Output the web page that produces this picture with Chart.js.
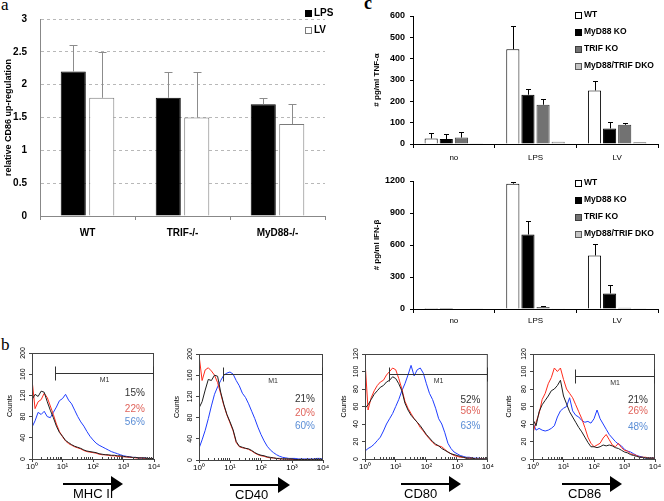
<!DOCTYPE html>
<html>
<head>
<meta charset="utf-8">
<script src="https://cdn.jsdelivr.net/npm/chart.js@4.4.0/dist/chart.umd.min.js"></script>
<style>
  body { margin: 0; background: #fff; width: 664px; height: 501px; position: relative; overflow: hidden; }
  canvas { position: absolute; }
  .letter { position: absolute; font-family: 'Liberation Serif', serif; line-height: 18px; color: #000; }
</style>
</head>
<body>
<div class="letter" style="left:1px; top:-4px; font-size:17px;">a</div>
<div class="letter" style="left:364px; top:-6px; font-size:18px; font-weight:bold;">c</div>
<div class="letter" style="left:1px; top:336px; font-size:17px;">b</div>

<canvas id="chartA" style="left:0; top:0;" width="335" height="250"></canvas>
<canvas id="chartTnf" style="left:335px; top:0;" width="329" height="165"></canvas>
<canvas id="chartIfn" style="left:335px; top:165px;" width="329" height="170"></canvas>
<canvas id="histMhc" style="left:0; top:330px;" width="164" height="171"></canvas>
<canvas id="histCd40" style="left:164px; top:330px;" width="166" height="171"></canvas>
<canvas id="histCd80" style="left:330px; top:330px;" width="164" height="171"></canvas>
<canvas id="histCd86" style="left:494px; top:330px;" width="170" height="171"></canvas>

<script>
// ---- panel a : relative CD86 up-regulation
const cd86Groups = ['WT', 'TRIF-/-', 'MyD88-/-'];
const cd86Lps = [2.2, 1.8, 1.7];
const cd86LpsErr = [0.4, 0.4, 0.1];
const cd86Lv = [1.8, 1.5, 1.4];
const cd86LvErr = [0.7, 0.7, 0.3];

// ---- panel c : cytokines (pg/ml)
const stimuli = ['no', 'LPS', 'LV'];
const tnfWT = [26, 444, 251];
const tnfWTErr = [27, 109, 43];
const tnfMyD88 = [23, 231, 73];
const tnfMyD88Err = [24, 26, 28];
const tnfTRIF = [30, 184, 90];
const tnfTRIFErr = [28, 25, 7];
const tnfDKO = [3, 11, 8];
const ifnWT = [10, 1175, 502];
const ifnWTErr = [0, 19, 103];
const ifnMyD88 = [10, 698, 146];
const ifnMyD88Err = [0, 125, 78];
const ifnTRIF = [5, 18, 12];
const ifnTRIFErr = [0, 8, 0];
const ifnDKO = [3, 2, 3];

// ---- panel b : FACS histograms, x = log10 fluorescence
const histBins = [0, 0.1, 0.2, 0.3, 0.4, 0.5, 0.6, 0.7, 0.8, 0.9, 1, 1.1, 1.2, 1.3, 1.4, 1.5, 1.6, 1.7, 1.8, 1.9, 2,
  2.1, 2.2, 2.3, 2.4, 2.5, 2.6, 2.7, 2.8, 2.9, 3, 3.1, 3.2, 3.3, 3.4, 3.5, 3.6, 3.7, 3.8, 3.9, 4];
const histTickLabels = ['10\u2070', '10\u00B9', '10\u00B2', '10\u00B3', '10\u2074'];

const mhcBlack = [112, 122, 118, 128, 126, 108, 92, 78, 62, 50, 43, 35, 31, 27, 24, 22, 20, 17, 15, 14, 13, 12, 10, 9, 8, 8, 7, 7, 6, 6, 5, 4, 4, 3, 3, 2, 2, 2, 1, 1, 1];
const mhcRed = [150, 95, 108, 112, 124, 116, 100, 84, 66, 52, 42, 34, 29, 26, 23, 21, 19, 16, 14, 13, 12, 11, 9, 8, 8, 7, 6, 6, 5, 5, 4, 4, 3, 3, 2, 2, 2, 1, 1, 1, 1];
const mhcBlue = [60, 72, 88, 84, 90, 80, 78, 88, 98, 110, 114, 122, 111, 104, 92, 80, 70, 62, 52, 43, 36, 30, 26, 23, 20, 17, 14, 12, 10, 8, 6, 5, 4, 3, 3, 2, 2, 2, 1, 1, 1];
const mhcPct = ['15%', '22%', '56%'];

const cd40Black = [98, 110, 132, 152, 150, 160, 158, 128, 105, 86, 72, 57, 35, 26, 24, 22, 21, 18, 14, 11, 9, 8, 6, 5, 4, 3, 3, 2, 2, 2, 2, 1, 1, 1, 1, 1, 1, 1, 1, 1, 1];
const cd40Red = [198, 150, 170, 174, 168, 160, 146, 125, 103, 85, 70, 55, 33, 25, 23, 22, 20, 17, 13, 10, 8, 7, 5, 4, 4, 3, 2, 2, 2, 1, 1, 1, 1, 1, 1, 1, 1, 1, 1, 1, 1];
const cd40Blue = [22, 38, 56, 78, 102, 124, 138, 150, 160, 164, 166, 162, 150, 140, 126, 118, 106, 92, 78, 62, 48, 36, 26, 19, 14, 10, 7, 5, 4, 3, 3, 3, 2, 2, 2, 2, 2, 2, 3, 3, 2];
const cd40Pct = ['21%', '20%', '60%'];

const cd80Black = [58, 62, 68, 74, 78, 82, 84, 88, 90, 94, 92, 86, 78, 64, 56, 50, 46, 42, 38, 33, 28, 24, 20, 17, 15, 12, 10, 8, 6, 5, 4, 3, 2, 1, 1, 1, 0, 0, 0, 0, 0];
const cd80Red = [112, 56, 70, 78, 84, 88, 90, 96, 100, 104, 102, 92, 80, 66, 58, 52, 46, 42, 36, 32, 27, 23, 19, 16, 15, 14, 11, 8, 6, 4, 3, 2, 2, 1, 1, 1, 0, 0, 0, 0, 0];
const cd80Blue = [9, 12, 14, 17, 21, 25, 32, 40, 46, 52, 60, 68, 78, 86, 96, 107, 95, 102, 104, 98, 86, 75, 68, 58, 46, 40, 30, 18, 12, 8, 6, 4, 3, 2, 2, 1, 1, 1, 0, 0, 0];
const cd80Pct = ['52%', '56%', '63%'];

const cd86Black = [45, 38, 54, 62, 67, 72, 78, 80, 84, 90, 72, 63, 54, 48, 42, 36, 31, 25, 19, 14, 14, 13, 14, 16, 15, 16, 15, 13, 12, 10, 8, 7, 5, 4, 3, 2, 2, 1, 1, 1, 1];
const cd86Red = [30, 42, 52, 68, 75, 86, 93, 104, 100, 104, 91, 80, 75, 70, 62, 54, 46, 36, 25, 18, 14, 16, 18, 24, 28, 22, 16, 14, 18, 13, 10, 9, 6, 5, 4, 2, 2, 2, 1, 1, 1];
const cd86Blue = [41, 33, 35, 33, 32, 33, 35, 38, 48, 55, 58, 60, 70, 55, 50, 48, 44, 42, 43, 41, 46, 56, 46, 40, 34, 28, 24, 20, 17, 15, 11, 9, 8, 6, 4, 3, 2, 1, 1, 1, 1];
const cd86Pct = ['21%', '26%', '48%'];

Chart.defaults.font.family = "'Liberation Sans', Arial, sans-serif";
Chart.defaults.color = '#000';
Chart.defaults.animation = false;
Chart.defaults.plugins.legend.display = false;
Chart.defaults.plugins.tooltip.enabled = false;

// upward error whiskers on bars
const errorBars = {
  id: 'errorBars',
  afterDatasetsDraw(chart, args, opts) {
    const ctx = chart.ctx;
    const yScale = chart.scales.y;
    ctx.save();
    ctx.strokeStyle = opts.color;
    ctx.lineWidth = 1;
    chart.data.datasets.forEach((ds, i) => {
      if (!ds.errors) return;
      chart.getDatasetMeta(i).data.forEach((bar, j) => {
        const err = ds.errors[j];
        if (!err) return;
        const x = Math.round(bar.x) + 0.5;
        const top = Math.round(yScale.getPixelForValue(ds.data[j] + err)) + 0.5;
        ctx.beginPath();
        ctx.moveTo(x, bar.y);
        ctx.lineTo(x, top);
        ctx.moveTo(x - opts.cap, top);
        ctx.lineTo(x + opts.cap, top);
        ctx.stroke();
      });
    });
    ctx.restore();
  }
};

// little square legend in the top right
const boxLegend = {
  id: 'boxLegend',
  afterDraw(chart, args, opts) {
    const ctx = chart.ctx;
    ctx.save();
    ctx.font = opts.font;
    ctx.textBaseline = 'middle';
    chart.data.datasets.forEach((ds, i) => {
      const cy = opts.y + i * opts.rowH;
      const bx = opts.x + 0.5, by = Math.round(cy - opts.box / 2) + 0.5;
      ctx.fillStyle = ds.backgroundColor;
      ctx.fillRect(bx, by, opts.box, opts.box);
      ctx.strokeStyle = ds.borderColor;
      ctx.lineWidth = 1;
      ctx.strokeRect(bx, by, opts.box, opts.box);
      ctx.fillStyle = '#000';
      ctx.fillText(ds.label, opts.x + opts.box + opts.gap, cy);
    });
    ctx.restore();
  }
};

// frame, minor decade ticks, M1 gate, percentages and marker arrow
const facs = {
  id: 'facs',
  afterDraw(chart, args, o) {
    const { ctx, chartArea: a, scales: { x, y } } = chart;
    ctx.save();
    ctx.strokeStyle = '#444';
    ctx.lineWidth = 1;
    ctx.strokeRect(a.left + 0.5, a.top + 0.5, a.right - a.left - 1, a.bottom - a.top);
    ctx.beginPath();
    for (let k = 0; k < 4; k++) {
      for (let m = 2; m < 10; m++) {
        const px = Math.round(x.getPixelForValue(k + Math.log10(m))) + 0.5;
        ctx.moveTo(px, a.bottom);
        ctx.lineTo(px, a.bottom - 2);
      }
    }
    ctx.stroke();

    const g0 = Math.round(x.getPixelForValue(o.gate[0])) + 0.5;
    const g1 = Math.round(x.getPixelForValue(o.gate[1])) - 0.5;
    const gy = Math.round(y.getPixelForValue(o.gate[2])) + 0.5;
    ctx.strokeStyle = '#333';
    ctx.beginPath();
    ctx.moveTo(g0, gy); ctx.lineTo(g1, gy);
    ctx.moveTo(g0, gy - 7); ctx.lineTo(g0, gy + 7);
    ctx.moveTo(g1, gy - 7); ctx.lineTo(g1, gy + 7);
    ctx.stroke();
    ctx.fillStyle = '#333';
    ctx.font = "7px 'Liberation Sans', Arial, sans-serif";
    ctx.textAlign = 'center';
    ctx.textBaseline = 'top';
    ctx.fillText('M1', (g0 + g1) / 2, gy + 3);

    ctx.font = "10px 'Liberation Sans', Arial, sans-serif";
    ctx.textAlign = 'right';
    ctx.textBaseline = 'middle';
    const pctColors = ['#333333', '#e0645c', '#5b8ed6'];
    o.pct.forEach((t, i) => {
      ctx.fillStyle = pctColors[i];
      ctx.fillText(t, x.getPixelForValue(o.pctX), y.getPixelForValue(o.pctY[i]));
    });

    // marker arrow with its name underneath
    const ay = a.bottom + 25;
    const ax0 = a.left + o.arrow, ax1 = ax0 + 60;
    ctx.fillStyle = '#000';
    ctx.fillRect(ax0, ay - 1, ax1 - ax0 - 10, 2);
    ctx.beginPath();
    ctx.moveTo(ax1 - 12, ay - 8);
    ctx.lineTo(ax1, ay);
    ctx.lineTo(ax1 - 12, ay + 8);
    ctx.closePath();
    ctx.fill();
    ctx.font = "13px 'Liberation Sans', Arial, sans-serif";
    ctx.textAlign = 'left';
    ctx.fillText(o.marker, ax0 + o.labelDx, ay + 10);
    ctx.restore();
  }
};

function barChart(id, labels, datasets, cfg) {
  return new Chart(document.getElementById(id), {
    type: 'bar',
    data: { labels, datasets },
    options: {
      responsive: false,
      layout: { padding: cfg.padding },
      datasets: { bar: { categoryPercentage: cfg.catPct, barPercentage: cfg.barPct } },
      scales: {
        x: {
          grid: { offset: true, drawOnChartArea: false, tickLength: 4, color: cfg.axisColor },
          border: { color: cfg.axisColor },
          ticks: { font: cfg.xFont, padding: cfg.xPad },
          afterFit: s => { s.height = cfg.xHeight; }
        },
        y: {
          min: 0, max: cfg.yMax,
          ticks: { stepSize: cfg.yStep, font: cfg.yFont, padding: cfg.yPad, callback: v => String(v) },
          grid: cfg.yGrid,
          border: cfg.yBorder,
          title: { display: true, text: cfg.yTitle, font: cfg.titleFont, padding: { top: cfg.titlePad, bottom: 0 } },
          afterFit: s => { s.width = cfg.yWidth; }
        }
      },
      plugins: { errorBars: cfg.err, boxLegend: cfg.legend }
    },
    plugins: [errorBars, boxLegend]
  });
}

barChart('chartA', cd86Groups, [
  { label: 'LPS', data: cd86Lps, errors: cd86LpsErr, backgroundColor: '#000', borderColor: '#000', borderWidth: 1 },
  { label: 'LV', data: cd86Lv, errors: cd86LvErr, backgroundColor: '#fff', borderColor: '#7a7a7a', borderWidth: 1 }
], {
  padding: { left: 0, top: 9, right: 10, bottom: 0 },
  catPct: 0.6, barPct: 0.88, axisColor: '#888',
  xFont: { size: 10, weight: 'bold' }, xPad: 7, xHeight: 34,
  yMax: 3, yStep: 0.5, yFont: { size: 10, weight: 'bold' }, yPad: 13,
  yGrid: { color: '#b8b8b8', drawTicks: false },
  yBorder: { color: '#888', dash: [3, 3] },
  yTitle: 'relative CD86 up-regulation', titleFont: { size: 9, weight: 'bold' }, titlePad: 3, yWidth: 40,
  err: { color: '#8c8c8c', cap: 4 },
  legend: { x: 305, y: 13, rowH: 17, box: 6, gap: 3, font: "bold 10px 'Liberation Sans', Arial, sans-serif" }
});

function cytokineSets(wt, wtErr, my, myErr, tr, trErr, dko) {
  return [
    { label: 'WT', data: wt, errors: wtErr, backgroundColor: '#fff', borderColor: '#000', borderWidth: 1 },
    { label: 'MyD88 KO', data: my, errors: myErr, backgroundColor: '#000', borderColor: '#000', borderWidth: 1 },
    { label: 'TRIF KO', data: tr, errors: trErr, backgroundColor: '#727272', borderColor: '#3c3c3c', borderWidth: 1 },
    { label: 'MyD88/TRIF DKO', data: dko, backgroundColor: '#c4c4c4', borderColor: '#5a5a5a', borderWidth: 1 }
  ];
}

const cytoCommon = {
  catPct: 0.74, barPct: 0.87, axisColor: '#000',
  xFont: { size: 8 },
  yFont: { size: 9, weight: 'bold' }, yPad: 5,
  yGrid: { drawOnChartArea: false, tickLength: 3, color: '#000' },
  yBorder: { color: '#000' },
  titleFont: { size: 8, weight: 'bold' }, titlePad: 37, yWidth: 78,
  err: { color: '#000', cap: 2.5 }
};

barChart('chartTnf', stimuli, cytokineSets(tnfWT, tnfWTErr, tnfMyD88, tnfMyD88Err, tnfTRIF, tnfTRIFErr, tnfDKO),
  Object.assign({}, cytoCommon, {
    padding: { left: 0, top: 16, right: 6, bottom: 0 },
    xPad: 5, xHeight: 21, yMax: 600, yStep: 100, yTitle: '# pg/ml TNF-\u03B1',
    legend: { x: 240, y: 15, rowH: 17, box: 6, gap: 3, font: "bold 8.5px 'Liberation Sans', Arial, sans-serif" }
  }));

barChart('chartIfn', stimuli, cytokineSets(ifnWT, ifnWTErr, ifnMyD88, ifnMyD88Err, ifnTRIF, ifnTRIFErr, ifnDKO),
  Object.assign({}, cytoCommon, {
    padding: { left: 0, top: 16, right: 6, bottom: 0 },
    xPad: 3, xHeight: 26, yMax: 1200, yStep: 300, yTitle: '# pg/ml IFN-\u03B2',
    legend: { x: 240, y: 18, rowH: 17, box: 6, gap: 3, font: "bold 8.5px 'Liberation Sans', Arial, sans-serif" }
  }));

function histChart(id, black, red, blue, cfg) {
  const pts = arr => arr.map((v, i) => ({ x: histBins[i], y: v }));
  const line = (data, color) => ({ data: pts(data), borderColor: color, borderWidth: 1, pointRadius: 0, tension: 0 });
  return new Chart(document.getElementById(id), {
    type: 'line',
    data: { datasets: [line(black, '#1e1e1e'), line(red, '#ff2b1c'), line(blue, '#1f3dff')] },
    options: {
      responsive: false,
      layout: { padding: { left: 0, top: cfg.top, right: cfg.right, bottom: 0 } },
      scales: {
        x: {
          type: 'linear', min: 0, max: 4,
          ticks: { stepSize: 1, font: { size: 8 }, padding: 0, callback: (v, i) => histTickLabels[i] },
          grid: { drawOnChartArea: false, tickLength: 3, color: '#444' },
          border: { color: '#444' },
          afterFit: s => { s.height = cfg.xHeight; }
        },
        y: {
          min: 0, max: cfg.yMax,
          ticks: { stepSize: cfg.yStep, font: { size: 7 }, minRotation: 90, maxRotation: 90, crossAlign: 'center', padding: 0 },
          grid: { drawOnChartArea: false, tickLength: 3, color: '#444' },
          border: { color: '#333' },
          title: { display: true, text: 'Counts', font: { size: 7 }, padding: { top: cfg.countsPad, bottom: 0 } },
          afterFit: s => { s.width = cfg.yWidth; }
        }
      },
      plugins: { facs: cfg.facs }
    },
    plugins: [facs]
  });
}

histChart('histMhc', mhcBlack, mhcRed, mhcBlue, {
  top: 23, right: 10, xHeight: 42, yWidth: 32, yMax: 200, yStep: 40, countsPad: 6,
  facs: { marker: 'MHC II', labelDx: 10, gate: [0.75, 4, 162], pct: mhcPct, pctX: 3.7, pctY: [124, 94, 70], arrow: 31 }
});
histChart('histCd40', cd40Black, cd40Red, cd40Blue, {
  top: 24, right: 7, xHeight: 41, yWidth: 35, yMax: 200, yStep: 40, countsPad: 9,
  facs: { marker: 'CD40', labelDx: 5, gate: [0.76, 4, 163], pct: cd40Pct, pctX: 3.74, pctY: [115, 89, 63], arrow: 31 }
});
histChart('histCd80', cd80Black, cd80Red, cd80Blue, {
  top: 24, right: 6, xHeight: 42, yWidth: 35, yMax: 120, yStep: 20, countsPad: 10,
  facs: { marker: 'CD80', labelDx: 3, gate: [0.79, 4, 97], pct: cd80Pct, pctX: 3.76, pctY: [67, 55, 37], arrow: 36 }
});
histChart('histCd86', cd86Black, cd86Red, cd86Blue, {
  top: 24, right: 9, xHeight: 42, yWidth: 39, yMax: 120, yStep: 20, countsPad: 11,
  facs: { marker: 'CD86', labelDx: 6, gate: [1.37, 4, 95], pct: cd86Pct, pctX: 3.77, pctY: [67, 55, 36], arrow: 29 }
});
</script>
</body>
</html>
